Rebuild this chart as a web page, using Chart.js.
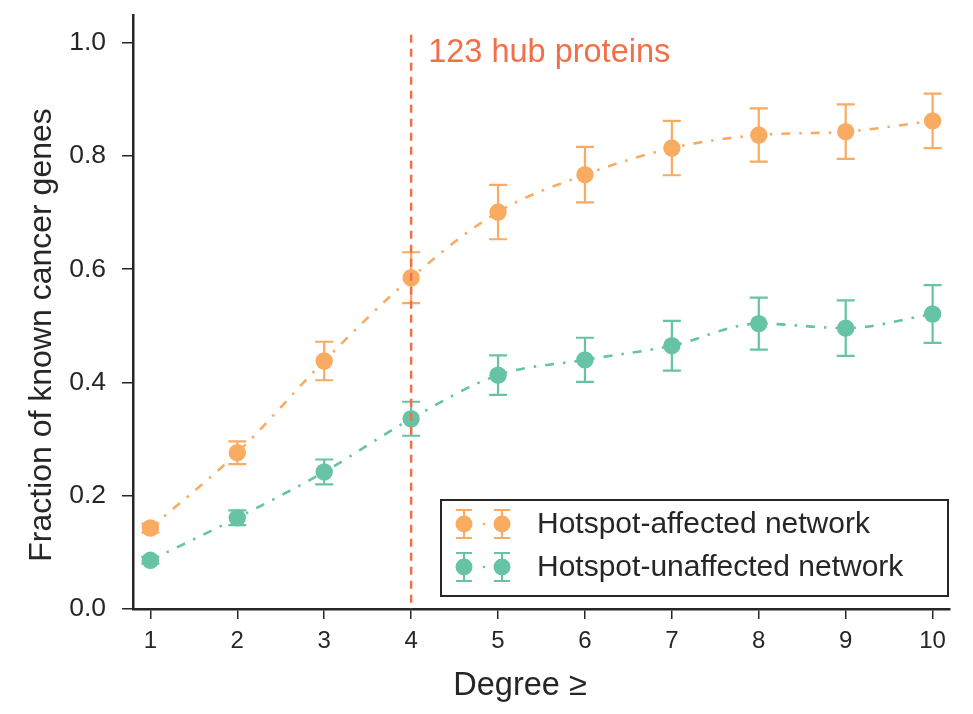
<!DOCTYPE html>
<html>
<head>
<meta charset="utf-8">
<script src="https://cdn.jsdelivr.net/npm/chart.js@4.4.1/dist/chart.umd.min.js"></script>
<style>
  html, body { margin: 0; padding: 0; background: #fff; }
  #wrap { width: 973px; height: 714px; }
</style>
</head>
<body>
<div id="wrap"><canvas id="chart" width="973" height="714"></canvas></div>
<script>
// data
var degrees = [1, 2, 3, 4, 5, 6, 7, 8, 9, 10];
var affected = [0.143, 0.276, 0.438, 0.585, 0.701, 0.767, 0.814, 0.837, 0.843, 0.862];
var affectedErr = [0.008, 0.020, 0.034, 0.045, 0.048, 0.049, 0.048, 0.047, 0.048, 0.048];
var unaffected = [0.086, 0.161, 0.242, 0.336, 0.413, 0.440, 0.465, 0.504, 0.496, 0.521];
var unaffectedErr = [0.006, 0.013, 0.022, 0.030, 0.035, 0.039, 0.044, 0.046, 0.049, 0.051];
var yTicks = [0.0, 0.2, 0.4, 0.6, 0.8, 1.0];
var hubDegree = 4;
var hubLabel = '123 hub proteins';
var xTitle = 'Degree \u2265';
var yTitle = 'Fraction of known cancer genes';

var ORANGE = '#F9AB62';
var GREEN = '#66C3A5';
var RED = '#F0704A';
var INK = '#262626';
var FONT = '"Liberation Sans", Arial, sans-serif';

function toPoints(ys) {
    return degrees.map(function (d, i) { return { x: d, y: ys[i] }; });
}

// error bars, drawn under the markers
var errorBars = {
    id: 'errorBars',
    beforeDatasetsDraw: function (chart) {
        var ctx = chart.ctx;
        var xs = chart.scales.x, ys = chart.scales.y;
        chart.data.datasets.forEach(function (ds) {
            ctx.save();
            ctx.strokeStyle = ds.borderColor;
            ctx.lineWidth = 2.2;
            ds.data.forEach(function (p, i) {
                var e = ds.errors[i];
                var px = xs.getPixelForValue(p.x);
                var top = ys.getPixelForValue(p.y + e);
                var bot = ys.getPixelForValue(p.y - e);
                ctx.beginPath();
                ctx.moveTo(px, top); ctx.lineTo(px, bot);
                ctx.moveTo(px - 9, top); ctx.lineTo(px + 9, top);
                ctx.moveTo(px - 9, bot); ctx.lineTo(px + 9, bot);
                ctx.stroke();
            });
            ctx.restore();
        });
    }
};

// vertical hub line + label, axis titles and the boxed legend
var extras = {
    id: 'extras',
    afterDatasetsDraw: function (chart) {
        var ctx = chart.ctx;
        var xs = chart.scales.x, ys = chart.scales.y;
        var area = chart.chartArea;
        var hx = xs.getPixelForValue(hubDegree);
        ctx.save();
        ctx.strokeStyle = RED;
        ctx.lineWidth = 2.5;
        ctx.setLineDash([8, 6]);
        ctx.beginPath();
        ctx.moveTo(hx, ys.getPixelForValue(1.014));
        ctx.lineTo(hx, area.bottom);
        ctx.stroke();
        ctx.setLineDash([]);
        ctx.fillStyle = RED;
        ctx.font = '32.5px ' + FONT;
        ctx.textBaseline = 'alphabetic';
        ctx.textAlign = 'left';
        ctx.fillText(hubLabel, hx + 17, 62);

        // axis titles
        ctx.fillStyle = INK;
        ctx.font = '32.5px ' + FONT;
        ctx.textAlign = 'center';
        ctx.fillText(xTitle, 520, 695);
        ctx.save();
        ctx.translate(51, 335);
        ctx.rotate(-Math.PI / 2);
        ctx.font = '32px ' + FONT;
        ctx.fillText(yTitle, 0, 0);
        ctx.restore();

        // legend
        var lx = 441, ly = 500, lw = 507, lh = 96;
        ctx.fillStyle = '#fff';
        ctx.fillRect(lx, ly, lw, lh);
        ctx.strokeStyle = INK;
        ctx.lineWidth = 2;
        ctx.strokeRect(lx, ly, lw, lh);
        chart.data.datasets.forEach(function (ds, k) {
            var cy = ly + 24 + k * 43;
            ctx.strokeStyle = ds.borderColor;
            ctx.fillStyle = ds.borderColor;
            ctx.lineWidth = 2;
            [464, 502].forEach(function (mx) {
                ctx.beginPath();
                ctx.moveTo(mx, cy - 14); ctx.lineTo(mx, cy + 14);
                ctx.moveTo(mx - 8, cy - 14); ctx.lineTo(mx + 8, cy - 14);
                ctx.moveTo(mx - 8, cy + 14); ctx.lineTo(mx + 8, cy + 14);
                ctx.stroke();
                ctx.beginPath();
                ctx.arc(mx, cy, 8.5, 0, Math.PI * 2);
                ctx.fill();
            });
            ctx.beginPath();
            ctx.arc(484, cy, 1.3, 0, Math.PI * 2);
            ctx.fill();
            ctx.fillStyle = INK;
            ctx.font = '30px ' + FONT;
            ctx.textAlign = 'left';
            ctx.textBaseline = 'middle';
            ctx.fillText(ds.label, 537, cy + 1);
        });
        ctx.restore();
    }
};

function makeSet(label, ys, errs, color) {
    return {
        label: label,
        data: toPoints(ys),
        errors: errs,
        borderColor: color,
        backgroundColor: color,
        pointBackgroundColor: color,
        pointBorderColor: color,
        pointRadius: 8.7,
        pointBorderWidth: 0,
        borderWidth: 2.6,
        borderDash: [9, 9, 2.5, 9],
        cubicInterpolationMode: 'monotone',
        showLine: true,
        fill: false
    };
}

new Chart(document.getElementById('chart'), {
    type: 'scatter',
    data: {
        datasets: [
            makeSet('Hotspot-affected network', affected, affectedErr, ORANGE),
            makeSet('Hotspot-unaffected network', unaffected, unaffectedErr, GREEN)
        ]
    },
    plugins: [errorBars, extras],
    options: {
        responsive: false,
        animation: false,
        devicePixelRatio: 1,
        layout: { padding: { left: 0, top: 15, right: 23, bottom: 0 } },
        plugins: {
            legend: { display: false },
            tooltip: { enabled: false }
        },
        scales: {
            x: {
                type: 'linear',
                min: 0.8,
                max: 10.2,
                afterBuildTicks: function (s) { s.ticks = degrees.map(function (v) { return { value: v }; }); },
                afterFit: function (s) { s.height = 105; s.paddingLeft = 0; s.paddingRight = 0; },
                grid: { drawOnChartArea: false, drawTicks: true, tickLength: 10, color: INK, lineWidth: 1.5 },
                border: { display: true, color: INK, width: 2.5 },
                ticks: {
                    color: INK,
                    padding: 8,
                    font: { family: FONT, size: 24 },
                    maxRotation: 0
                }
            },
            y: {
                type: 'linear',
                min: 0,
                max: 1.049,
                afterBuildTicks: function (s) { s.ticks = yTicks.map(function (v) { return { value: v }; }); },
                afterFit: function (s) { s.width = 133; s.paddingTop = 0; s.paddingBottom = 0; },
                grid: { drawOnChartArea: false, drawTicks: true, tickLength: 11, color: INK, lineWidth: 1.5 },
                border: { display: true, color: INK, width: 2.5 },
                ticks: {
                    color: INK,
                    padding: 16,
                    font: { family: FONT, size: 26.5 },
                    callback: function (v) { return Number(v).toFixed(1); }
                }
            }
        }
    }
});
</script>
</body>
</html>
